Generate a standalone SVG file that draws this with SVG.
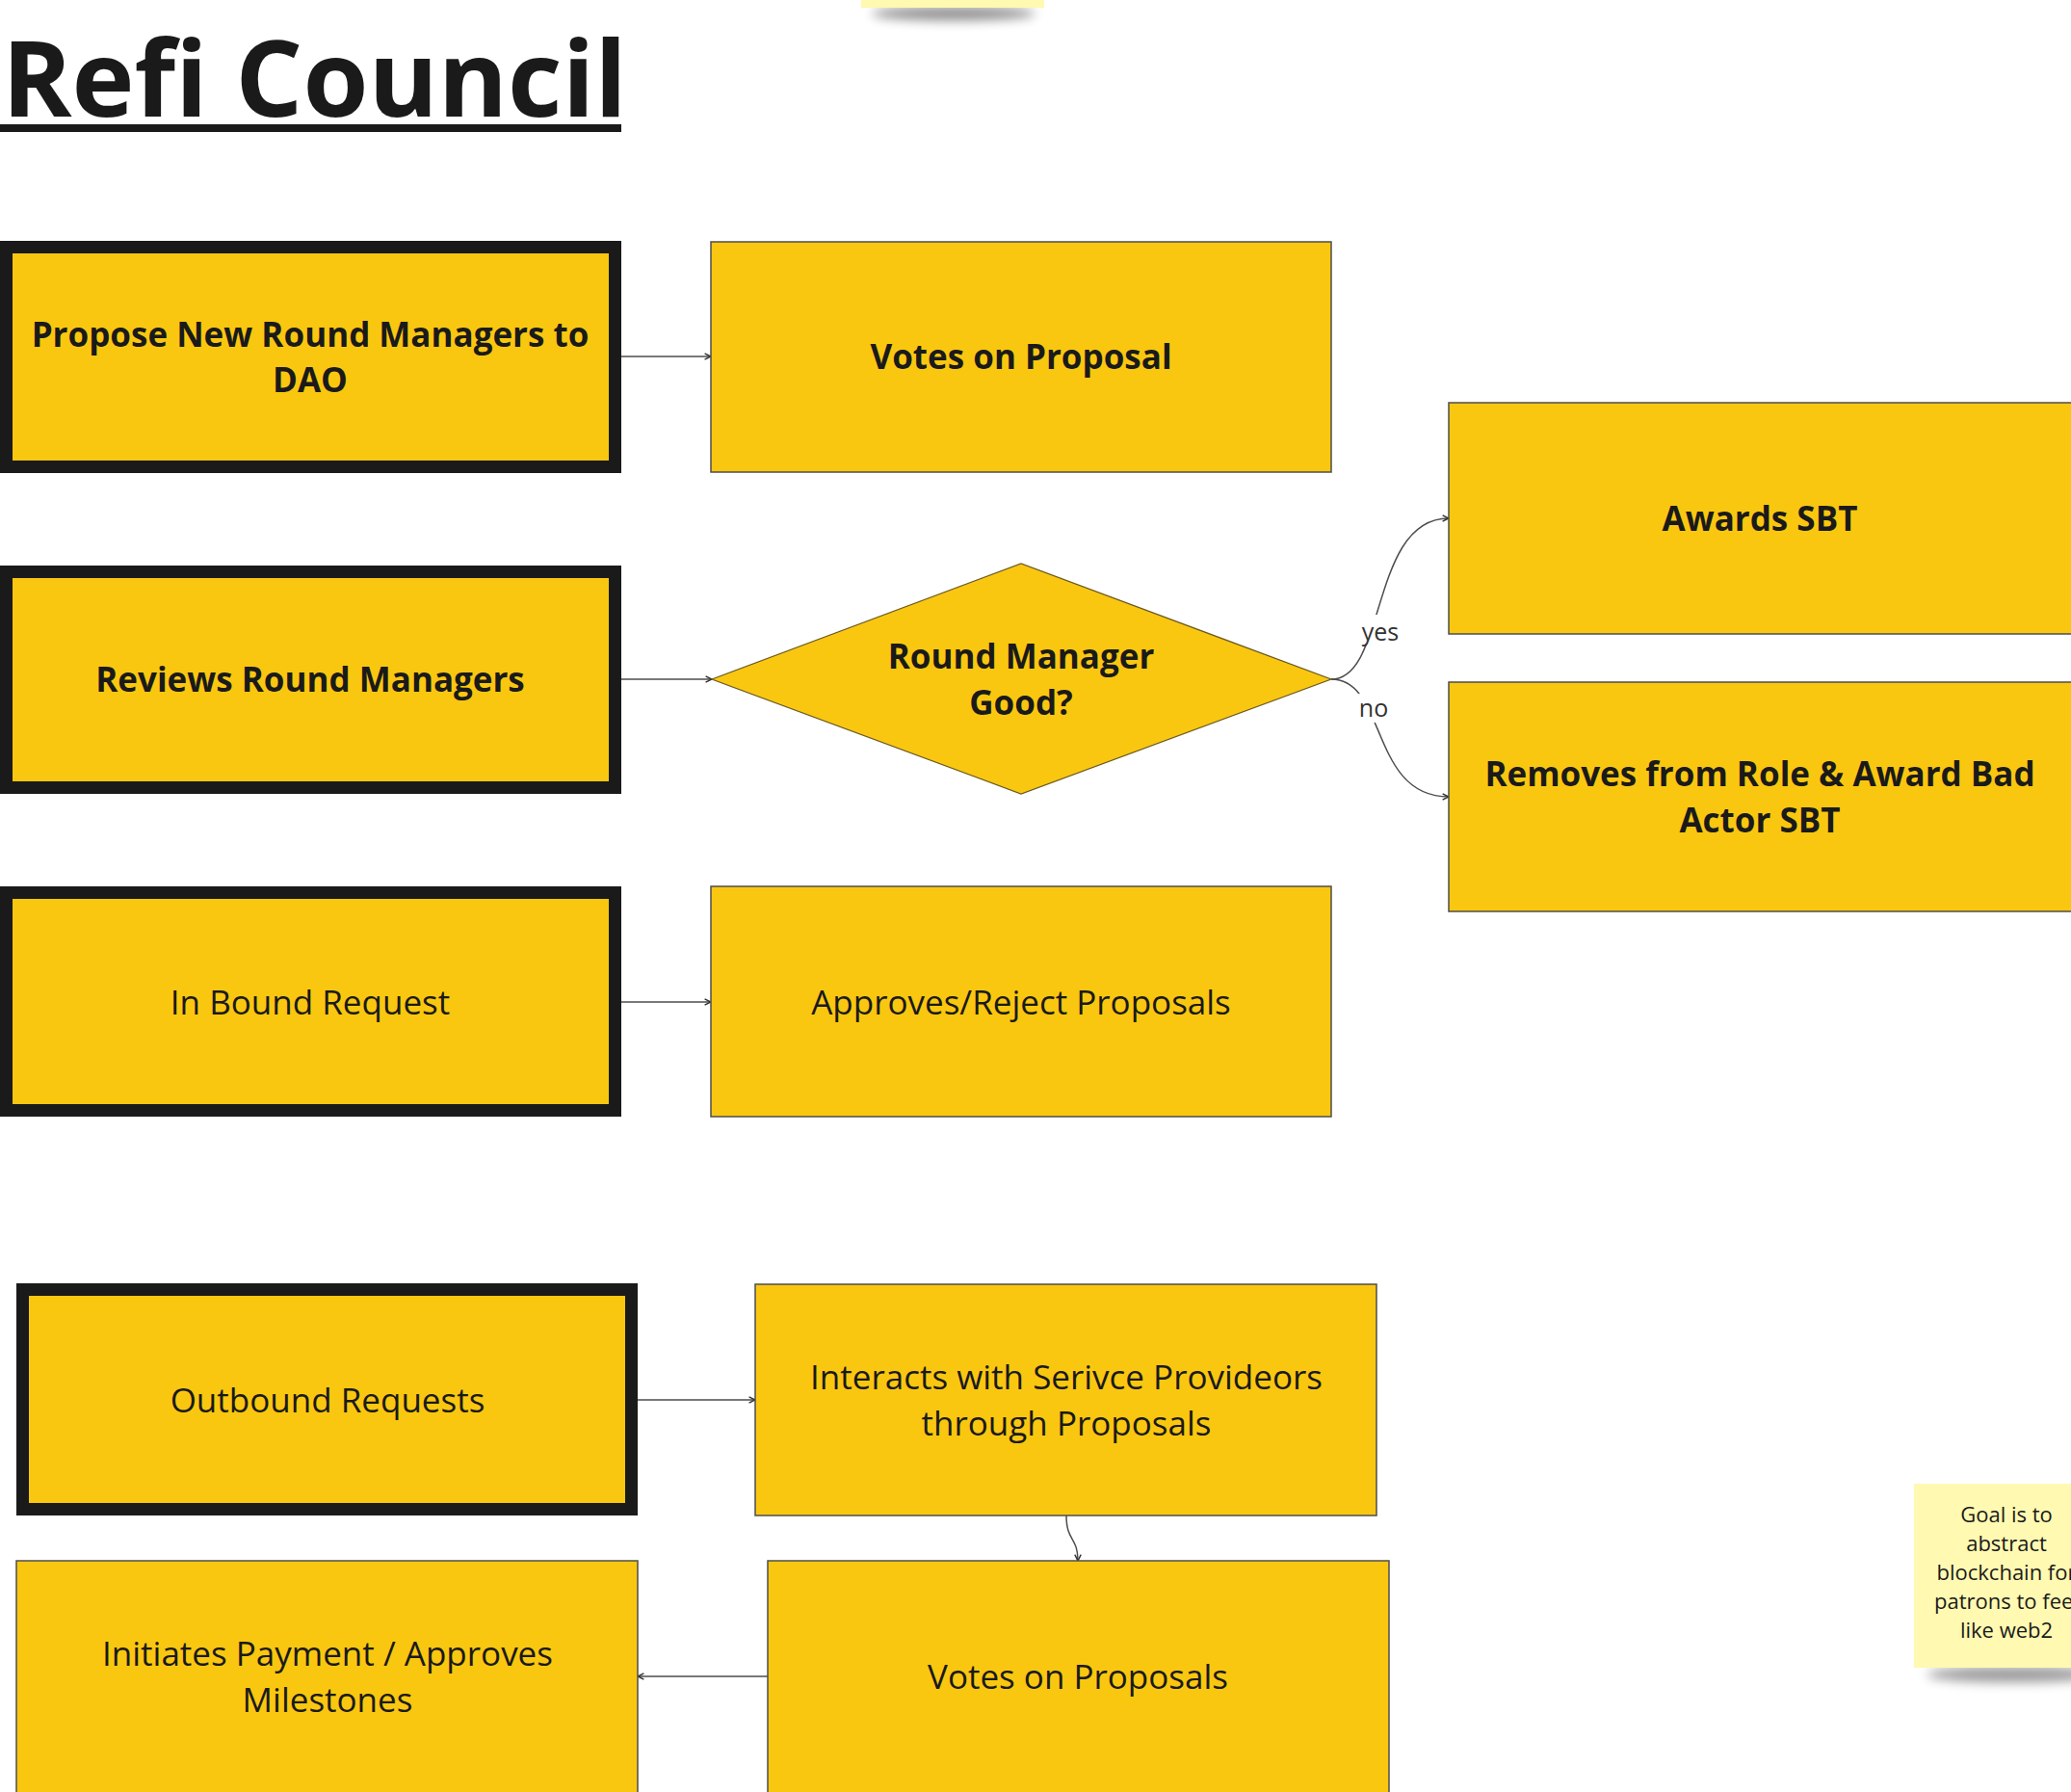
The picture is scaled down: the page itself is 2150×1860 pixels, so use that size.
<svg xmlns="http://www.w3.org/2000/svg" width="2150" height="1860" viewBox="0 0 2150 1860">
<style>
  .thick { fill: #FAC710; stroke: #1a1a1a; stroke-width: 13; }
  .thin { fill: #FAC710; stroke: #4d4d4d; stroke-width: 1.5; }
  .dia { fill: #FAC710; stroke: #6b5a20; stroke-width: 1.2; }
  .b { font-family: "Open Sans", "Liberation Sans", sans-serif; font-weight: 700; font-size: 35px; fill: #1a1a1a; text-anchor: middle; }
  .r { font-family: "Open Sans", "Liberation Sans", sans-serif; font-weight: 400; font-size: 35px; fill: #1a1a1a; text-anchor: middle; }
  .lbl { font-family: "Open Sans", "Liberation Sans", sans-serif; font-size: 25px; fill: #333333; text-anchor: middle; }
  .note { font-family: "Open Sans", "Liberation Sans", sans-serif; font-size: 22px; fill: #1a1a1a; text-anchor: middle; }
  .conn { fill: none; stroke: #4d4d4d; stroke-width: 1.5; marker-end: url(#arr); }
</style>
<defs>
  <marker id="arr" viewBox="0 0 10 10" refX="9" refY="5" markerWidth="8" markerHeight="8" markerUnits="userSpaceOnUse" orient="auto">
    <path d="M1,1 L9,5 L1,9" fill="none" stroke="#333333" stroke-width="1.8"/>
  </marker>
  <filter id="sh" x="-30%" y="-100%" width="160%" height="300%">
    <feGaussianBlur stdDeviation="6"/>
  </filter>
</defs>
<rect width="2150" height="1860" fill="#ffffff"/>

<g id="sticky-top">
  <ellipse cx="990" cy="14" rx="85" ry="7" fill="#000000" opacity="0.45" filter="url(#sh)"/>
  <rect x="894" y="-10" width="190" height="18" fill="#FFF9B1"/>
</g>

<g id="title">
  <text x="2" y="121" font-family="'Open Sans', 'Liberation Sans', sans-serif" font-weight="700" font-size="110" fill="#1a1a1a">Refi Council</text>
  <rect x="0" y="129" width="645" height="8" fill="#1a1a1a"/>
</g>

<g id="connectors">
  <path class="conn" d="M645,370 L738,370"/>
  <path class="conn" d="M645,705 L739,705"/>
  <path class="conn" d="M1382,705 C1440,705 1422,538 1504,538"/>
  <path class="conn" d="M1382,705 C1440,705 1422,827 1504,827"/>
  <path class="conn" d="M645,1040 L738,1040"/>
  <path class="conn" d="M662,1453 L784,1453"/>
  <path class="conn" d="M1107,1573 C1107,1600 1119,1595 1119,1620"/>
  <path class="conn" d="M797,1740 L662,1740"/>
  <rect x="1414" y="638" width="40" height="30" fill="#ffffff"/>
  <text class="lbl" x="1433" y="665">yes</text>
  <rect x="1410" y="720" width="34" height="30" fill="#ffffff"/>
  <text class="lbl" x="1426" y="744">no</text>
</g>

<g id="n-propose">
  <rect class="thick" x="6.5" y="256.5" width="632" height="228"/>
  <text class="b" x="322" y="360">Propose New Round Managers to</text>
  <text class="b" x="322" y="407">DAO</text>
</g>
<g id="n-votes-proposal">
  <rect class="thin" x="738" y="251" width="644" height="239"/>
  <text class="b" x="1060" y="383">Votes on Proposal</text>
</g>
<g id="n-reviews">
  <rect class="thick" x="6.5" y="593.5" width="632" height="224"/>
  <text class="b" x="322" y="718">Reviews Round Managers</text>
</g>
<g id="n-decision">
  <polygon class="dia" points="739,705 1060,585 1382,705 1060,824"/>
  <text class="b" x="1060" y="694">Round Manager</text>
  <text class="b" x="1060" y="742">Good?</text>
</g>
<g id="n-awards">
  <rect class="thin" x="1504" y="418" width="650" height="240"/>
  <text class="b" x="1827" y="551">Awards SBT</text>
</g>
<g id="n-removes">
  <rect class="thin" x="1504" y="708" width="650" height="238"/>
  <text class="b" x="1827" y="816">Removes from Role &amp; Award Bad</text>
  <text class="b" x="1827" y="864">Actor SBT</text>
</g>
<g id="n-inbound">
  <rect class="thick" x="6.5" y="926.5" width="632" height="226"/>
  <text class="r" x="322" y="1053">In Bound Request</text>
</g>
<g id="n-approves">
  <rect class="thin" x="738" y="920" width="644" height="239"/>
  <text class="r" x="1060" y="1053">Approves/Reject Proposals</text>
</g>
<g id="n-outbound">
  <rect class="thick" x="23.5" y="1338.5" width="632" height="228"/>
  <text class="r" x="340" y="1466">Outbound Requests</text>
</g>
<g id="n-interacts">
  <rect class="thin" x="784" y="1333" width="645" height="240"/>
  <text class="r" x="1107" y="1442">Interacts with Serivce Provideors</text>
  <text class="r" x="1107" y="1490">through Proposals</text>
</g>
<g id="n-initiates">
  <rect class="thin" x="17" y="1620" width="645" height="245"/>
  <text class="r" x="340" y="1729">Initiates Payment / Approves</text>
  <text class="r" x="340" y="1777">Milestones</text>
</g>
<g id="n-votes-proposals">
  <rect class="thin" x="797" y="1620" width="645" height="245"/>
  <text class="r" x="1119" y="1753">Votes on Proposals</text>
</g>

<g id="sticky-note">
  <ellipse cx="2090" cy="1738" rx="90" ry="8" fill="#000000" opacity="0.4" filter="url(#sh)"/>
  <rect x="1987" y="1540" width="200" height="191" fill="#FFF9B1"/>
  <text class="note" x="2083" y="1580">Goal is to</text>
  <text class="note" x="2083" y="1610">abstract</text>
  <text class="note" x="2083" y="1640">blockchain for</text>
  <text class="note" x="2083" y="1670">patrons to feel</text>
  <text class="note" x="2083" y="1700">like web2</text>
</g>
</svg>
